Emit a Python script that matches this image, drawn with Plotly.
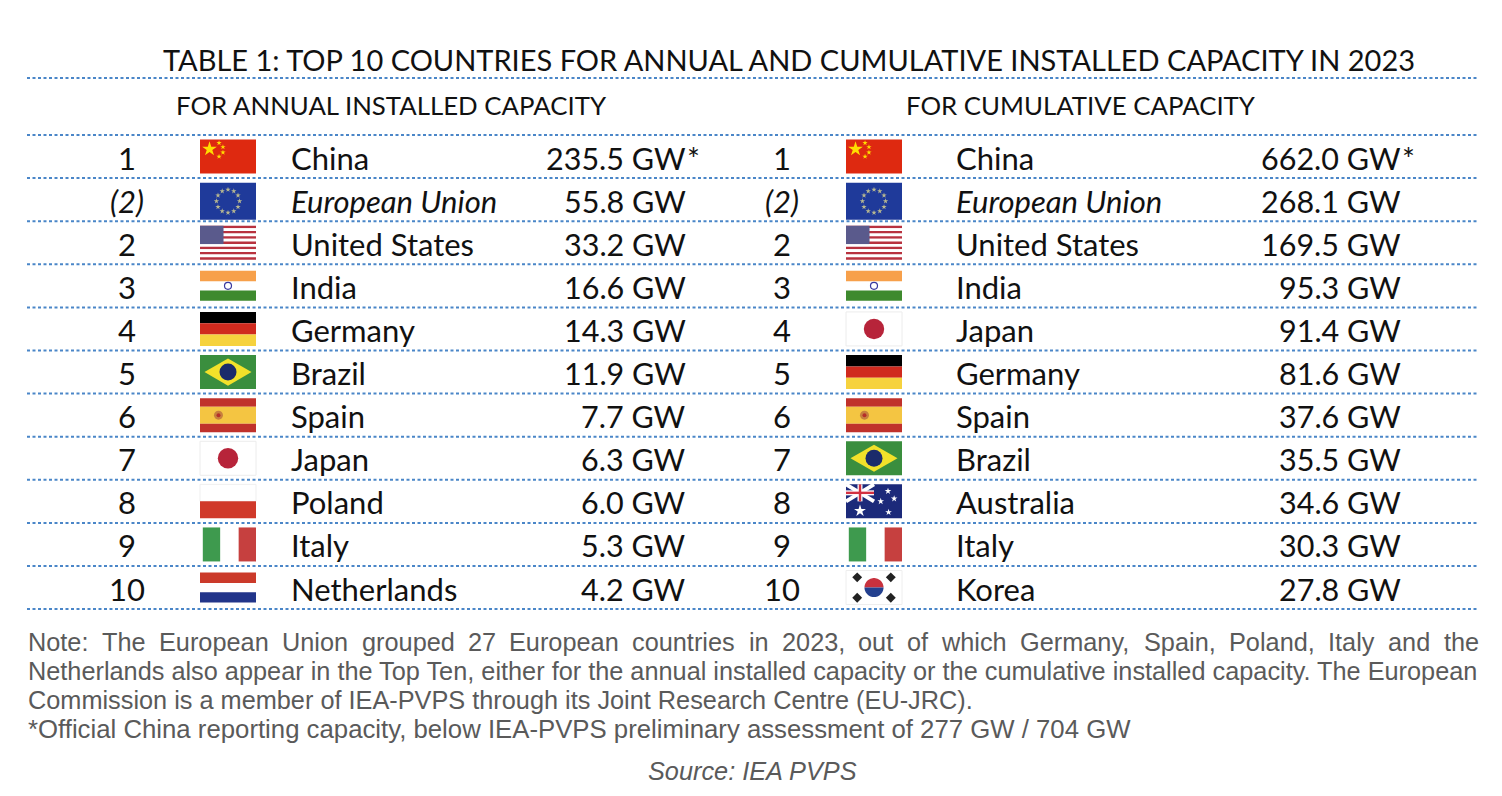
import numpy as np
import plotly.graph_objects as go

# table data
ranks = ["1", "(2)", "2", "3", "4", "5", "6", "7", "8", "9", "10"]
annual_country = ["China", "European Union", "United States", "India", "Germany", "Brazil",
                  "Spain", "Japan", "Poland", "Italy", "Netherlands"]
annual_gw = [235.5, 55.8, 33.2, 16.6, 14.3, 11.9, 7.7, 6.3, 6.0, 5.3, 4.2]
annual_flag = ["CN", "EU", "US", "IN", "DE", "BR", "ES", "JP", "PL", "IT", "NL"]

cumul_country = ["China", "European Union", "United States", "India", "Japan", "Germany",
                 "Spain", "Brazil", "Australia", "Italy", "Korea"]
cumul_gw = [662.0, 268.1, 169.5, 95.3, 91.4, 81.6, 37.6, 35.5, 34.6, 30.3, 27.8]
cumul_flag = ["CN", "EU", "US", "IN", "JP", "DE", "ES", "BR", "AU", "IT", "KR"]

title = "TABLE 1: TOP 10 COUNTRIES FOR ANNUAL AND CUMULATIVE INSTALLED CAPACITY IN 2023"
sub_left = "FOR ANNUAL INSTALLED CAPACITY"
sub_right = "FOR CUMULATIVE CAPACITY"
note_line1 = "Note: The European Union grouped 27 European countries in 2023, out of which Germany, Spain, Poland, Italy and the"
note_rest = ["Netherlands also appear in the Top Ten, either for the annual installed capacity or the cumulative installed capacity. The European",
             "Commission is a member of IEA-PVPS through its Joint Research Centre (EU-JRC).",
             "*Official China reporting capacity, below IEA-PVPS preliminary assessment of 277 GW / 704 GW"]
source = "Source: IEA PVPS"

W, H = 1502, 796
OFF = 8  # page body margin
TFONT = "Lato, Carlito, sans-serif"
NFONT = "Liberation Sans, Arial, sans-serif"
INK = "#111111"
GREY = "#5a5a5a"
DOT = "#4a86c8"
NOTE_SIZE = 25.3
TXT = 31

row_top = 135
row_h = 43.1
left_edge, right_edge = 27, 1478

shapes = []
annots = []
pts = {}  # (symbol, size, color, angle) -> [xs, ys]


def rect(xa, ya, xb, yb, color, border=None):
    shapes.append(dict(type="rect", xref="x", yref="y", x0=xa, y0=ya, x1=xb, y1=yb,
                       fillcolor=color, layer="below",
                       line=dict(width=1 if border else 0, color=border or color)))


def poly(points, color):
    d = "M " + " L ".join(f"{px:.2f},{py:.2f}" for px, py in points) + " Z"
    shapes.append(dict(type="path", xref="x", yref="y", path=d, fillcolor=color,
                       layer="below", line=dict(width=0)))


def mark(x, y, symbol, size, color, angle=0):
    key = (symbol, size, color, angle)
    pts.setdefault(key, [[], []])
    pts[key][0].append(x)
    pts[key][1].append(y)


def flag(code, x0, yc, w=56, h=34):
    y0 = yc - h / 2
    x1, y1 = x0 + w, y0 + h
    if code == "CN":
        rect(x0, y0, x1, y1, "#DE2910")
        mark(x0 + 0.17 * w, y0 + 0.28 * h, "star", 11, "#FFDE00")
        for fx, fy in [(0.34, 0.1), (0.41, 0.22), (0.41, 0.38), (0.34, 0.5)]:
            mark(x0 + fx * w, y0 + fy * h, "star", 4, "#FFDE00")
    elif code == "EU":
        rect(x0, y0, x1, y1 + 3, "#1F3A9A")
        for a in np.linspace(0, 2 * np.pi, 13)[:-1]:
            mark(x0 + w / 2 + 0.34 * h * np.cos(a), y0 + h / 2 + 1.5 + 0.34 * h * np.sin(a),
                 "star", 4, "#B8B890")
    elif code == "US":
        sh = h / 13
        for k in range(13):
            rect(x0, y0 + k * sh, x1, y0 + (k + 1) * sh, "#B8323F" if k % 2 == 0 else "#FFFFFF")
        rect(x0, y0, x0 + 0.42 * w, y0 + 7 * sh, "#5A5A8C")
    elif code == "IN":
        rect(x0, y0 + 2, x1, y0 + h / 3 + 1, "#F7A04A")
        rect(x0, y1 - h / 3 - 1, x1, y1 - 2, "#3E8A2E")
        mark(x0 + w / 2, yc, "circle-open", 7, "#3A3AA0")
    elif code == "DE":
        rect(x0, y0, x1, y0 + h / 3, "#000000")
        rect(x0, y0 + h / 3, x1, y0 + 2 * h / 3, "#D02A1E")
        rect(x0, y0 + 2 * h / 3, x1, y1, "#F6D23E")
    elif code == "BR":
        rect(x0, y0, x1, y1, "#3A8E3E")
        poly([(x0 + 0.08 * w, yc), (x0 + w / 2, y0 + 0.1 * h),
              (x1 - 0.08 * w, yc), (x0 + w / 2, y1 - 0.1 * h)], "#F2E12A")
        mark(x0 + w / 2, yc, "circle", 0.5 * h, "#1B2B6B")
    elif code == "ES":
        rect(x0, y0, x1, y0 + h / 4, "#C0312B")
        rect(x0, y0 + h / 4, x1, y1 - h / 4, "#F4C542")
        rect(x0, y1 - h / 4, x1, y1, "#C0312B")
        mark(x0 + 0.33 * w, yc, "circle", 9, "#C7803E")
        mark(x0 + 0.33 * w, yc, "circle", 4, "#B5302A")
    elif code == "JP":
        rect(x0, y0, x1, y1, "#FFFFFF", border="#ECECEC")
        mark(x0 + w / 2, yc, "circle", 0.6 * h, "#B7243A")
    elif code == "PL":
        rect(x0, y0, x1, y0 + h / 2, "#FFFFFF", border="#EFEFEF")
        rect(x0, y0 + h / 2, x1, y1, "#D0392A")
    elif code == "IT":
        rect(x0 + 0.05 * w, y0, x0 + 0.36 * w, y1, "#3E9A4E")
        rect(x0 + 0.69 * w, y0, x1, y1, "#C6403F")
    elif code == "NL":
        rect(x0, y0 + 2, x1, y0 + h / 3 + 1, "#CB3A2A")
        rect(x0, y1 - h / 3 - 1, x1, y1 - 2, "#22358A")
    elif code == "AU":
        rect(x0, y0, x1, y1, "#1C2A7A")
        cx1, cy1 = x0 + w / 2, y0 + h / 2
        shapes.append(dict(type="line", xref="x", yref="y", x0=x0, y0=y0, x1=cx1, y1=cy1,
                           line=dict(color="#FFFFFF", width=4), layer="below"))
        shapes.append(dict(type="line", xref="x", yref="y", x0=x0, y0=cy1, x1=cx1, y1=y0,
                           line=dict(color="#FFFFFF", width=4), layer="below"))
        rect(x0, y0 + h / 4 - 2.5, cx1, y0 + h / 4 + 2.5, "#FFFFFF")
        rect(x0 + w / 4 - 2.5, y0, x0 + w / 4 + 2.5, cy1, "#FFFFFF")
        rect(x0, y0 + h / 4 - 1.2, cx1, y0 + h / 4 + 1.2, "#D33040")
        rect(x0 + w / 4 - 1.2, y0, x0 + w / 4 + 1.2, cy1, "#D33040")
        mark(x0 + w / 4, y0 + 0.78 * h, "star", 9, "#FFFFFF")
        for fx, fy in [(0.75, 0.2), (0.62, 0.5), (0.86, 0.42), (0.76, 0.82)]:
            mark(x0 + fx * w, y0 + fy * h, "star", 5, "#FFFFFF")
    elif code == "KR":
        rect(x0, y0, x1, y1, "#FFFFFF", border="#EEEEEE")
        r = 0.28 * h
        cx, cy = x0 + w / 2, yc
        t = np.linspace(0, np.pi, 30)
        poly([(cx + r * np.cos(a), cy - r * np.sin(a)) for a in t], "#C8313E")
        poly([(cx - r * np.cos(a), cy + r * np.sin(a)) for a in t], "#23408F")
        for fx, fy, ang in [(0.2, 0.2, 45), (0.8, 0.2, -45), (0.2, 0.8, -45), (0.8, 0.8, 45)]:
            mark(x0 + fx * w, y0 + fy * h, "square", 7, "#222222", ang)


def text(x, y, s, size, anchor="left", color=INK, family=TFONT):
    annots.append(dict(x=x, y=y, xref="x", yref="y", text=s, showarrow=False,
                       xanchor=anchor, yanchor="middle", borderpad=0,
                       font=dict(family=family, size=size, color=color)))


def hline(y):
    shapes.append(dict(type="line", xref="x", yref="y", x0=left_edge, x1=right_edge, y0=y, y1=y,
                       line=dict(color=DOT, width=2, dash="3px,2.5px"), layer="above"))


# headings
text(789, 59, title, 29, anchor="center")
hline(78)
text(391, 105, sub_left, 25.8, anchor="center")
text(1081, 105, sub_right, 25.8, anchor="center")
for k in range(len(ranks) + 1):
    hline(row_top + k * row_h)


def table(countries, values, flags, x_rank, x_flag, x_name, x_val):
    for i, (rk, c, v, f) in enumerate(zip(ranks, countries, values, flags)):
        yc = row_top + (i + 0.5) * row_h
        it = rk.startswith("(")
        fmt = (lambda s: f"<i>{s}</i>") if it else (lambda s: s)
        text(x_rank, yc + 1, fmt(rk), TXT, anchor="center")
        flag(f, x_flag, yc)
        text(x_name, yc + 1, fmt(c), TXT)
        text(x_val, yc + 1, f"{v:.1f} GW", 30.5, anchor="right")
        if i == 0:
            text(x_val - 1, yc + 1, "*", 30.5)


table(annual_country, annual_gw, annual_flag, 127, 200, 290, 687)
table(cumul_country, cumul_gw, cumul_flag, 782, 846, 955, 1402)

# Arial advance widths (per 1000 em) to justify the first note line
AW = dict(zip("ABCDEFGHIJKLMNOPQRSTUVWXYZ",
              [667, 667, 722, 722, 667, 611, 778, 722, 278, 500, 667, 556, 833, 722, 778, 667,
               778, 722, 667, 611, 722, 667, 944, 667, 667, 611]))
AW.update(zip("abcdefghijklmnopqrstuvwxyz",
              [556, 556, 500, 556, 556, 278, 556, 556, 222, 222, 500, 222, 833, 556, 556, 556,
               556, 333, 500, 278, 556, 500, 722, 500, 500, 500]))
AW.update({c: 556 for c in "0123456789"})
AW.update({",": 278, ".": 278, ":": 278, "-": 333})


def wwidth(s):
    return sum(AW.get(c, 556) for c in s) * NOTE_SIZE / 1000


words = note_line1.split(" ")
widths = [wwidth(wd) for wd in words]
gap = (right_edge - left_edge - sum(widths)) / (len(words) - 1)
cx = left_edge
for wd, ww in zip(words, widths):
    text(cx, 642, wd, NOTE_SIZE, color=GREY, family=NFONT)
    cx += ww + gap
for k, line in enumerate(note_rest):
    size = NOTE_SIZE + (0.45 if k == 2 else 0)
    text(left_edge, 671 + k * 29, line, size, color=GREY, family=NFONT)
text(752, 771, f"<i>{source}</i>", NOTE_SIZE, anchor="center", color=GREY, family=NFONT)

fig = go.Figure()
for (sym, size, color, ang), (xs, ys) in pts.items():
    fig.add_trace(go.Scatter(x=xs, y=ys, mode="markers", hoverinfo="skip",
                             marker=dict(symbol=sym, size=size, color=color, angle=ang,
                                         line=dict(width=1.2 if "open" in sym else 0, color=color))))

fig.update_layout(
    width=W, height=H, margin=dict(l=0, r=0, t=0, b=0),
    paper_bgcolor="white", plot_bgcolor="white", showlegend=False,
    shapes=shapes, annotations=annots,
    xaxis=dict(range=[OFF, W + OFF], visible=False, fixedrange=True),
    yaxis=dict(range=[H + OFF, OFF], visible=False, fixedrange=True),
)
fig.write_html("out.html")
